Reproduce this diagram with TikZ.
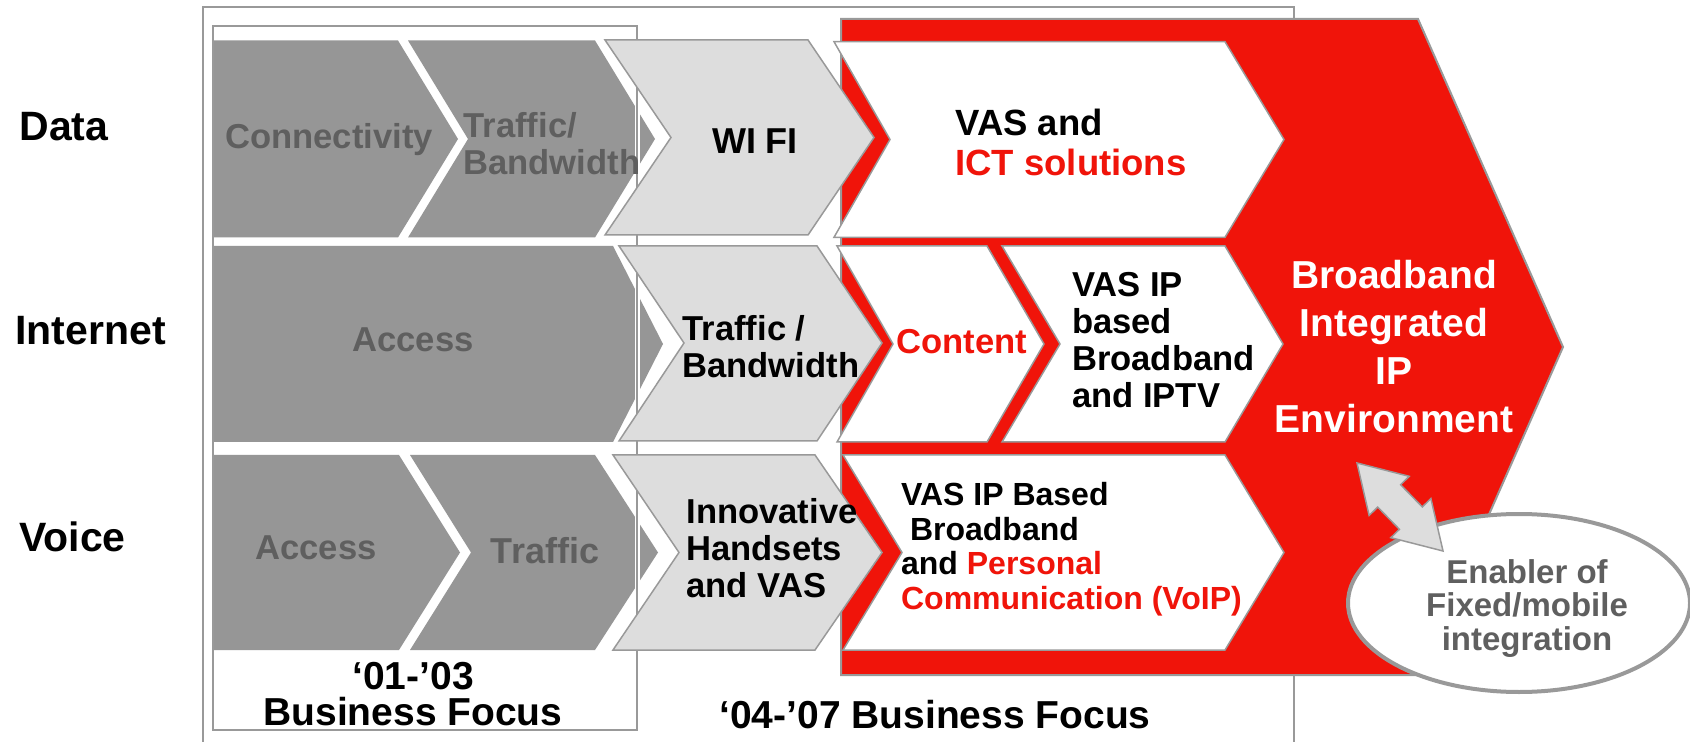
\documentclass[tikz,border=0pt]{standalone}
\usepackage{fontspec}
\setmainfont{Liberation Sans}
\usetikzlibrary{calc,shapes.geometric}
\definecolor{redA}{RGB}{240,20,10}
\definecolor{darkG}{RGB}{150,150,150}
\definecolor{lightG}{RGB}{221,221,221}
\definecolor{lineG}{RGB}{153,153,153}
\definecolor{txtG}{RGB}{95,95,95}
\begin{document}
\begin{tikzpicture}[x=0.5pt,y=-0.5pt,
  darkchev/.style={fill=darkG},
  lightchev/.style={fill=lightG,draw=lineG,line width=0.75pt},
  whitechev/.style={fill=white,draw=lineG,line width=0.75pt},
  bigred/.style={fill=redA,draw=lineG,line width=1pt},
  frameline/.style={draw=lineG,line width=1.25pt},
  txt/.style={inner sep=0pt,font=\bfseries\fontsize{17.3}{18.5}\selectfont},
  dimtxt/.style={txt,text=txtG},
  rowlabel/.style={inner sep=0pt,anchor=west,font=\bfseries\fontsize{20.5}{24}\selectfont},
  dblarrow/.style={fill=lightG,draw=lineG,line width=0.75pt,line join=miter}
]
\useasboundingbox (0,0) rectangle (1690,742);
\clip (0,0) rectangle (1690,742);

% frames
\draw[frameline] (203,7) rectangle (1294,760);
\draw[frameline,fill=white] (213,26) rectangle (637,730);

% dark chevrons
\fill[darkchev] (213,40.5) -- (398,40.5) -- (458,139) -- (398,237.5) -- (213,237.5) -- cycle;
\fill[darkchev] (408,40.5) -- (595,40.5) -- (655,139) -- (595,237.5) -- (408,237.5) -- (468,139) -- cycle;
\fill[darkchev] (213,246) -- (613,246) -- (663,344) -- (613,442) -- (213,442) -- cycle;
\fill[darkchev] (213,455) -- (399,455) -- (460,552.5) -- (399,650) -- (213,650) -- cycle;
\fill[darkchev] (410,455) -- (595,455) -- (658,552.5) -- (595,650) -- (410,650) -- (471,552.5) -- cycle;

% inner box border on top
\draw[white,line width=2.5pt] (637,26) -- (637,730);
\draw[frameline] (213,26) rectangle (637,730);

% red environment shape
\draw[bigred] (841,19) -- (1418,19) -- (1563,347) -- (1418,675) -- (841,675) -- cycle;

% light gray chevrons
\draw[lightchev] (605,40) -- (808,40) -- (874,137.5) -- (808,235) -- (605,235) -- (671,137.5) -- cycle;
\draw[lightchev] (619,246) -- (817,246) -- (882,343) -- (817,441) -- (619,441) -- (684,343) -- cycle;
\draw[lightchev] (613,455) -- (815,455) -- (882,552.5) -- (815,650) -- (613,650) -- (679,552.5) -- cycle;

% white chevrons
\draw[whitechev] (834,41.7) -- (1225,41.7) -- (1284,139.5) -- (1225,237.3) -- (834,237.3) -- (890,139.5) -- cycle;
\draw[whitechev] (837,246) -- (987,246) -- (1044,344) -- (987,442) -- (837,442) -- (893,344) -- cycle;
\draw[whitechev] (1002,246) -- (1225,246) -- (1283,344) -- (1225,442) -- (1002,442) -- (1060,344) -- cycle;
\draw[whitechev] (843,455) -- (1225,455) -- (1284,552.5) -- (1225,650) -- (843,650) -- (902,552.5) -- cycle;

% row labels
\node[rowlabel] (lblData) at (19,127) {Data};
\node[rowlabel] (lblInternet) at (15,331) {Internet};
\node[rowlabel] (lblVoice) at (19,537) {Voice};

% row 1 texts
\node[dimtxt,anchor=base] (tConn) at (329,148.3) {Connectivity};
\node[dimtxt,anchor=north west,align=left] (tTB1) at (463,111.9) {Traffic/\\Bandwidth};
\node[txt,anchor=base,font=\bfseries\fontsize{18}{20}\selectfont] (tWifi) at (755,154) {WI FI};
\node[txt,anchor=north west,align=left,font=\bfseries\fontsize{18.25}{20}\selectfont] (tICT) at (955,108.7) {VAS and\\\textcolor{redA}{ICT solutions}};

% row 2 texts
\node[dimtxt,anchor=base] (tAcc2) at (413,352) {Access};
\node[txt,anchor=north west,align=left] (tTB2) at (682,315.2) {Traffic /\\Bandwidth};
\node[txt,anchor=base,text=redA] (tContent) at (961.7,353.3) {Content};
\node[txt,anchor=north west,align=left] (tIPTV) at (1071.7,272.2) {VAS IP\\based\\Broadband\\and IPTV};

% row 3 texts
\node[dimtxt,anchor=base] (tAcc3) at (316,559) {Access};
\node[dimtxt,anchor=base,font=\bfseries\fontsize{18}{20}\selectfont] (tTraffic3) at (545,563.5) {Traffic};
\node[txt,anchor=north west,align=left] (tInnov) at (686,498.2) {Innovative\\Handsets\\and VAS};
\node[txt,anchor=north west,align=left,font=\bfseries\fontsize{16}{17.25}\selectfont] (tVoIP) at (900.7,482) {VAS IP Based\\\kern0.278em Broadband\\and \textcolor{redA}{Personal}\\\textcolor{redA}{Communication (VoIP)}};

% big red text
\node[txt,anchor=north,align=center,text=white,font=\bfseries\fontsize{19.5}{23.9}\selectfont] (tBIP) at (1394,260) {Broadband\\Integrated\\IP\\Environment};

% enabler ellipse and arrow
\node[draw=lineG,line width=2pt,fill=white,ellipse,minimum width=171pt,minimum height=89pt,inner sep=0pt] (enabler) at (1519,603) {};
\coordinate (arrA) at (1357,463);
\coordinate (arrB) at (1443,551);
\coordinate (hA) at ($(arrA)!23pt!(arrB)$);
\coordinate (hB) at ($(arrB)!23pt!(arrA)$);
\draw[dblarrow] (arrA) -- ($(hA)!14pt!90:(arrB)$) -- ($(hA)!8pt!90:(arrB)$)
  -- ($(hB)!8pt!-90:(arrA)$) -- ($(hB)!14pt!-90:(arrA)$) -- (arrB)
  -- ($(hB)!14pt!90:(arrA)$) -- ($(hB)!8pt!90:(arrA)$)
  -- ($(hA)!8pt!-90:(arrB)$) -- ($(hA)!14pt!-90:(arrB)$) -- cycle;
\node[dimtxt,anchor=north,align=center,font=\bfseries\fontsize{16.5}{16.67}\selectfont] (tEnabler) at (1527,559.2) {Enabler of\\Fixed/mobile\\integration};

% period labels
\node[txt,anchor=north,align=center,font=\bfseries\fontsize{19.5}{18}\selectfont] (tPeriod1) at (413,661.5) {‘01-’03\\Business Focus};
\node[txt,anchor=base,font=\bfseries\fontsize{19.5}{22}\selectfont] (tPeriod2) at (935,728) {‘04-’07 Business Focus};
\end{tikzpicture}
\end{document}
